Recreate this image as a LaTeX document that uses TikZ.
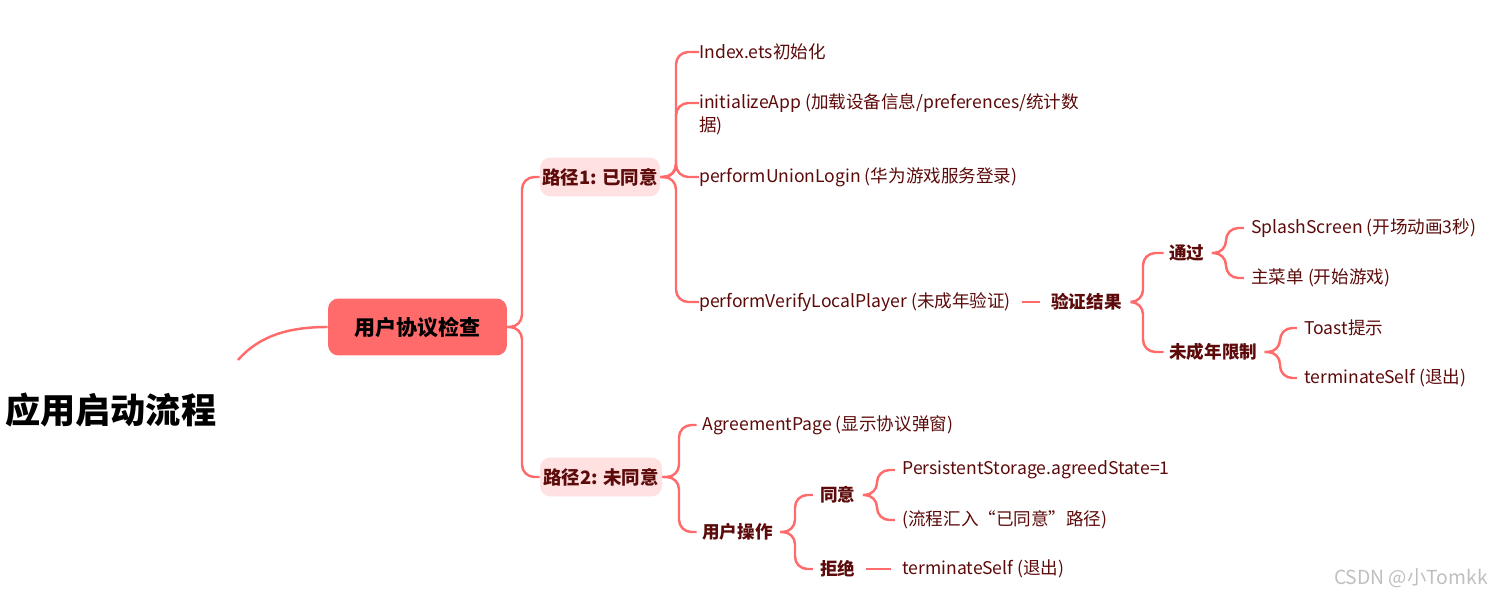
\documentclass[tikz,border=0pt]{standalone}
\usepackage{fontspec}
\setmainfont{Noto Sans CJK SC}
\usetikzlibrary{positioning}
\definecolor{linkred}{HTML}{FF6B6B}
\definecolor{softred}{HTML}{FFE1E1}
\definecolor{inkred}{HTML}{5C0A0A}
\tikzset{
    leaf/.style={anchor=west,inner sep=0pt,text=inkred,font=\fontsize{10}{13}\selectfont},
    mid/.style={leaf,font=\fontsize{10}{13}\selectfont\bfseries},
    branch/.style={draw=none,fill=softred,rounded corners=6pt,text=inkred,inner sep=0pt,minimum height=0.78cm,font=\fontsize{10.5}{13}\selectfont\bfseries},
    link/.style={draw=linkred,line width=1.4pt,rounded corners=7pt}
}
\begin{document}
\begin{tikzpicture}[x=0.02cm,y=-0.02cm]
    \useasboundingbox (0,0) rectangle (1494,604);

    \node[anchor=west,inner sep=0pt,font=\fontsize{20}{24}\selectfont\bfseries] (root) at (5,410) {应用启动流程};
    \node[fill=linkred,rounded corners=6pt,minimum width=3.58cm,minimum height=1.14cm,inner sep=0pt,font=\fontsize{12}{14}\selectfont\bfseries] (check) at (417.5,327) {用户协议检查};
    \draw[link] (238,360) .. controls (260,335) and (290,327) .. (check.west);

    \node[branch,minimum width=2.4cm] (path1) at (600,177) {路径1: 已同意};
    \node[branch,minimum width=2.44cm] (path2) at (601,477) {路径2: 未同意};
    \foreach \c in {path1,path2}
        \draw[link] (check.east) -- (522,327) |- (\c.west);

    % path 1
    \node[leaf] (index) at (699,52) {Index.ets初始化};
    \node[leaf,anchor=north west,align=left] (init) at (699,93) {initializeApp (加载设备信息/preferences/统计数\\据)};
    \coordinate (initin) at (699,103);
    \node[leaf] (union) at (699,177) {performUnionLogin (华为游戏服务登录)};
    \node[leaf] (verify) at (699,302) {performVerifyLocalPlayer (未成年验证)};
    \foreach \c in {index,initin,union,verify}
        \draw[link] (path1.east) -- (676,177) |- (\c.west);

    \node[mid] (result) at (1051,302) {验证结果};
    \draw[link] ([xshift=6pt]verify.east) -- ([xshift=-6pt]result.west);
    \node[mid] (pass) at (1169,253) {通过};
    \node[mid] (minor) at (1169,352) {未成年限制};
    \foreach \c in {pass,minor}
        \draw[link] ([xshift=6pt]result.east) -- (1143,302) |- ([xshift=-3pt]\c.west);

    \node[leaf] (splash) at (1251,228) {SplashScreen (开场动画3秒)};
    \node[leaf] (menu) at (1251,278) {主菜单 (开始游戏)};
    \foreach \c in {splash,menu}
        \draw[link] ([xshift=4pt]pass.east) -- (1226,253) |- ([xshift=-4pt]\c.west);

    \node[leaf] (toast) at (1304,328) {Toast提示};
    \node[leaf] (quit1) at (1304,378) {terminateSelf (退出)};
    \foreach \c in {toast,quit1}
        \draw[link] ([xshift=4pt]minor.east) -- (1280,352) |- ([xshift=-4pt]\c.west);

    % path 2
    \node[leaf] (agree) at (702,425) {AgreementPage (显示协议弹窗)};
    \node[mid] (action) at (702,532) {用户操作};
    \foreach \c in {agree,action}
        \draw[link] (path2.east) -- (679,477) |- ([xshift=-3pt]\c.west);

    \node[mid] (yes) at (820,495) {同意};
    \node[mid] (no) at (820,569) {拒绝};
    \foreach \c in {yes,no}
        \draw[link] ([xshift=4pt]action.east) -- (795,532) |- ([xshift=-4pt]\c.west);

    \node[leaf] (store) at (902,470) {PersistentStorage.agreedState=1};
    \node[leaf,font=\fontsize{10}{13}\selectfont\itshape] (merge) at (902,520) {(流程汇入“已同意”路径)};
    \foreach \c in {store,merge}
        \draw[link] ([xshift=4pt]yes.east) -- (877,495) |- ([xshift=-4pt]\c.west);

    \node[leaf] (quit2) at (902,569) {terminateSelf (退出)};
    \draw[link] ([xshift=6pt]no.east) -- ([xshift=-6pt]quit2.west);

    \node[anchor=east,inner sep=0pt,text=gray!50,font=\fontsize{11}{13}\selectfont] (mark) at (1488,578) {CSDN @小Tomkk};
\end{tikzpicture}
\end{document}
